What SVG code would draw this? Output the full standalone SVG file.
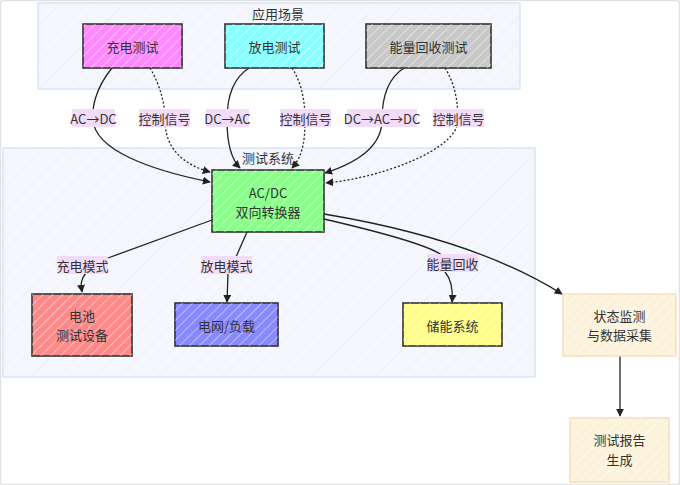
<svg xmlns="http://www.w3.org/2000/svg" width="680" height="485" viewBox="0 0 680 485">
<defs>
<style>
text{font-family:"Noto Sans CJK SC","Noto Sans",sans-serif;font-size:13px;fill:#333;text-anchor:middle;dominant-baseline:central}
.grp{fill:#f5f7fd;stroke:#d2dcf3;stroke-width:1.2}
.gh{fill:url(#hg)}
.node{stroke:#333;stroke-width:1.6}
.hatch{fill:url(#hw);stroke:none}
.e{fill:none;stroke:#222;stroke-width:1.3}
.d{stroke-dasharray:2 2}
.lb{fill:#f2dcfa}
.soft{stroke:#f0dcb0;stroke-width:1.3;fill:#fdf3dd}
</style>
<pattern id="hw" width="7" height="7" patternUnits="userSpaceOnUse" patternTransform="rotate(45)">
<line x1="0" y1="0" x2="0" y2="7" stroke="#fff" stroke-width="1.3" stroke-opacity="0.7"/>
</pattern>
<pattern id="hg" width="9" height="9" patternUnits="userSpaceOnUse" patternTransform="rotate(45)">
<line x1="0" y1="0" x2="0" y2="9" stroke="#e6ebf6" stroke-width="1"/>
</pattern>
<marker id="ar" viewBox="0 0 10 10" refX="9" refY="5" markerWidth="8" markerHeight="8" orient="auto-start-reverse" markerUnits="userSpaceOnUse">
<path d="M0,0 L10,5 L0,10 z" fill="#222"/>
</marker>
</defs>
<rect x="0.5" y="0.5" width="679" height="484" rx="3" fill="#fff" stroke="#e2e2e2" stroke-width="1.5"/>

<g id="group-app">
<rect class="grp" x="38" y="3" width="482" height="86"/>
<rect class="gh" x="38" y="3" width="482" height="86"/>
<text x="278" y="13">应用场景</text>
</g>
<g id="group-test">
<rect class="grp" x="3" y="148" width="532" height="229"/>
<rect class="gh" x="3" y="148" width="532" height="229"/>
<text x="268" y="157">测试系统</text>
</g>

<g id="connectors">
<path class="e" d="M112,68 C94,90 92,110 93,120 C95,150 150,170 210,182" marker-end="url(#ar)"/>
<path class="e d" d="M150,68 C163,90 165,110 165,120 C165,150 185,165 210,172" marker-end="url(#ar)"/>
<path class="e" d="M249,68 C230,80 227,105 227,120 C227,140 230,158 240,168" marker-end="url(#ar)"/>
<path class="e d" d="M292,68 C303,85 305,105 305,120 C305,140 303,156 292,168" marker-end="url(#ar)"/>
<path class="e" d="M404,68 C385,80 382,105 382,120 C382,150 350,165 325,173" marker-end="url(#ar)"/>
<path class="e d" d="M445,68 C456,85 458,105 458,120 C458,150 380,178 326,183" marker-end="url(#ar)"/>
<path class="e" d="M212,220 L108,258"/>
<path class="e" d="M86,273 C80,280 81,285 82,292" marker-end="url(#ar)"/>
<path class="e" d="M247,232 L236,257"/>
<path class="e" d="M228,273 L227,302" marker-end="url(#ar)"/>
<path class="e" d="M324,219 C380,232 430,245 443,256"/>
<path class="e" d="M445,272 C452,280 453,290 452,302" marker-end="url(#ar)"/>
<path class="e" d="M324,214 C420,230 500,255 562,294" marker-end="url(#ar)"/>
<path class="e" d="M620,356 L620,416" marker-end="url(#ar)"/>
<g id="edge-labels">
<rect class="lb" x="72" y="109" width="43" height="18"/><text x="93.5" y="118">AC→DC</text>
<rect class="lb" x="139" y="109" width="51" height="18"/><text x="164.5" y="118">控制信号</text>
<rect class="lb" x="206" y="109" width="43" height="18"/><text x="227.5" y="118">DC→AC</text>
<rect class="lb" x="280" y="109" width="51" height="18"/><text x="305.5" y="118">控制信号</text>
<rect class="lb" x="347" y="109" width="70" height="18"/><text x="382" y="118">DC→AC→DC</text>
<rect class="lb" x="433" y="109" width="51" height="18"/><text x="458.5" y="118">控制信号</text>
<rect class="lb" x="57" y="256" width="51" height="18"/><text x="82.5" y="265">充电模式</text>
<rect class="lb" x="201" y="256" width="51" height="18"/><text x="226.5" y="265">放电模式</text>
<rect class="lb" x="427" y="254" width="51" height="18"/><text x="452.5" y="263">能量回收</text>
</g>
</g>

<g id="node-charge">
<rect class="node" x="83" y="24" width="99" height="44" fill="#ff88ff"/>
<rect class="hatch" x="83" y="24" width="99" height="44"/>
<text x="132.5" y="46">充电测试</text>
</g>
<g id="node-discharge">
<rect class="node" x="225" y="24" width="99" height="44" fill="#88ffff"/>
<rect class="hatch" x="225" y="24" width="99" height="44"/>
<text x="274.5" y="46">放电测试</text>
</g>
<g id="node-recovery">
<rect class="node" x="366" y="24" width="125" height="44" fill="#c8c8c8"/>
<rect class="hatch" x="366" y="24" width="125" height="44"/>
<text x="428.5" y="46">能量回收测试</text>
</g>
<g id="node-acdc">
<rect class="node" x="212" y="170" width="112" height="62" fill="#88ff88"/>
<rect class="hatch" x="212" y="170" width="112" height="62"/>
<text x="268" y="192">AC/DC</text>
<text x="268" y="211">双向转换器</text>
</g>
<g id="node-battery">
<rect class="node" x="32" y="294" width="100" height="62" fill="#ff8888"/>
<rect class="hatch" x="32" y="294" width="100" height="62"/>
<text x="82" y="315">电池</text>
<text x="82" y="334">测试设备</text>
</g>
<g id="node-grid">
<rect class="node" x="175" y="303" width="103" height="43" fill="#8888ff"/>
<rect class="hatch" x="175" y="303" width="103" height="43"/>
<text x="226.5" y="325">电网/负载</text>
</g>
<g id="node-storage">
<rect class="node" x="403" y="303" width="99" height="43" fill="#ffff88"/>
<rect class="hatch" x="403" y="303" width="99" height="43"/>
<text x="452.5" y="325">储能系统</text>
</g>
<g id="node-monitor">
<rect class="soft" x="563" y="294" width="113" height="62"/>
<rect class="hatch" x="563" y="294" width="113" height="62"/>
<text x="619.5" y="315">状态监测</text>
<text x="619.5" y="334">与数据采集</text>
</g>
<g id="node-report">
<rect class="soft" x="570" y="418" width="99" height="64"/>
<rect class="hatch" x="570" y="418" width="99" height="64"/>
<text x="619.5" y="439">测试报告</text>
<text x="619.5" y="459">生成</text>
</g>
</svg>
